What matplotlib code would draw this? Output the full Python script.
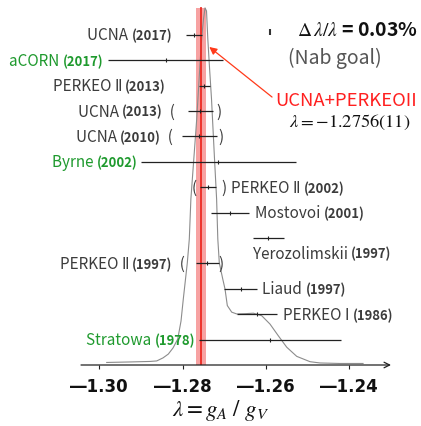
import matplotlib
matplotlib.use("Agg")
import matplotlib.pyplot as plt
from matplotlib.offsetbox import TextArea, HPacker, AnnotationBbox

# ---- measurements of lambda = gA/gV (top row first) ----
names = ["UCNA", "aCORN", "PERKEO Ⅱ", "UCNA", "UCNA", "Byrne", "PERKEO Ⅱ",
         "Mostovoi", "Yerozolimskii", "PERKEO Ⅱ", "Liaud", "PERKEO Ⅰ", "Stratowa"]
years = ["(2017)", "(2017)", "(2013)", "(2013)", "(2010)", "(2002)", "(2002)",
         "(2001)", "(1997)", "(1997)", "(1997)", "(1986)", "(1978)"]
values = [-1.2772, -1.2840, -1.2748, -1.2758, -1.2760, -1.2714, -1.2739,
          -1.2686, -1.2594, -1.2741, -1.2661, -1.2621, -1.2590]
errors = [0.0019, 0.0138, 0.0013, 0.0030, 0.0042, 0.0185, 0.0019,
          0.0046, 0.0038, 0.0028, 0.0040, 0.0048, 0.0170]
superseded = [False, False, False, True, True, False, True,
              False, False, True, False, False, False]
from_a_coefficient = [False, True, False, False, False, True, False,
                      False, False, False, False, False, True]

# combined UCNA+PERKEO II result
combined_value = -1.2756
combined_error = 0.0011
combined_text = "UCNA+PERKEOII"
nab_goal_text = "(Nab goal)"

# ideogram of the measurements
ideo_lambda = [-1.29822, -1.29263, -1.28783, -1.28622, -1.28471, -1.28344, -1.28231,
               -1.28118, -1.28039, -1.27984, -1.27888, -1.27840, -1.27802, -1.27732,
               -1.27662, -1.27619, -1.27576, -1.27535, -1.27499, -1.27463, -1.27427,
               -1.27396, -1.27353, -1.27307, -1.27271, -1.27235, -1.27185, -1.27156,
               -1.27120, -1.27038, -1.26983, -1.26928, -1.26822, -1.26702, -1.26503,
               -1.26304, -1.26102, -1.25903, -1.25704, -1.25502, -1.25262, -1.24943,
               -1.24703, -1.24223, -1.23671]
ideo_height = [0.10, 0.12, 0.14, 0.16, 0.28, 0.43, 0.67,
               1.02, 1.73, 2.60, 4.02, 4.96, 6.54, 8.11,
               9.69, 10.87, 12.05, 13.03, 13.62, 14.06, 13.94,
               12.84, 11.65, 10.47, 9.29, 8.11, 6.54, 4.96,
               4.02, 3.39, 2.99, 2.34, 2.08, 2.01, 2.02,
               2.04, 1.94, 1.61, 1.15, 0.70, 0.34, 0.13,
               0.08, 0.06, 0.06]

tick_values = [-1.30, -1.28, -1.26, -1.24]
tick_labels = ["―1.30", "―1.28", "―1.26", "―1.24"]

# ---- label placement: side of the bar and gap in pixels ----
label_side = ["left", "left", "left", "left", "left", "left", "right",
              "right", "below", "left", "right", "right", "left"]
label_gap = [14, 5, 33, 13, 9, 4, 3, 6, 0, 11, 5, 6, 4]
close_gap = [0, 0, 0, 3.7, 1.6, 0, 3.3, 0, 0, -1, 0, 0, 0]

W, H, DPI = 421, 427, 100
PT = 72.0 / DPI  # points per pixel

JP = "Noto Sans CJK JP"
plt.rcParams["font.family"] = [JP, "DejaVu Sans"]
plt.rcParams["mathtext.fontset"] = "stix"

TEXT = "#3c3c3c"
GREEN = "#1f9a2e"
RED = "#ff1f1f"
NAME_SIZE = 11.0
YEAR_SIZE = 9.4
ROMAN = "ⅠⅡ"

fig = plt.figure(figsize=(W / DPI, H / DPI), dpi=DPI)
ax = fig.add_axes([81 / W, 61 / H, 310 / W, 366 / H])
ax.set_xlim(-1.30439, -1.23)
ax.set_ylim(0, 14.41)

n = len(values)
rows = list(range(n, 0, -1))
peak = max(ideo_height)

# combined band and central value
ax.fill_betweenx([0, peak], combined_value - combined_error,
                 combined_value + combined_error, color="#f7a2a2", lw=0, zorder=1)
ax.plot([combined_value, combined_value], [0, peak], color="#ec2a22", lw=1.3, zorder=3)

# ideogram
ax.plot(ideo_lambda, ideo_height, color="#8c8c8c", lw=0.8, zorder=2)

# measurements
ax.errorbar(values, rows, xerr=errors, fmt="none", ecolor="#222222",
            elinewidth=0.9, capsize=0, zorder=4)
ax.plot(values, rows, ls="none", marker="|", ms=3, mew=0.8, color="#222222", zorder=4)


def name_parts(name, color):
    """Split a name so roman numerals get a narrower glyph."""
    parts = []
    chunk = ""
    for ch in name:
        if ch in ROMAN:
            if chunk:
                parts.append(TextArea(chunk, textprops=dict(fontsize=NAME_SIZE, color=color,
                                                            family=JP)))
                chunk = ""
            parts.append(TextArea(ch, textprops=dict(fontsize=NAME_SIZE, color=color,
                                                     family="DejaVu Sans")))
        else:
            chunk += ch
    chunk += " "
    parts.append(TextArea(chunk, textprops=dict(fontsize=NAME_SIZE, color=color, family=JP)))
    return parts


def label_box(name, year, color, prefix="", suffix=""):
    parts = []
    if prefix:
        parts.append(TextArea(prefix, textprops=dict(fontsize=NAME_SIZE, color=TEXT, family=JP)))
    parts += name_parts(name, color)
    parts.append(TextArea(year, textprops=dict(fontsize=YEAR_SIZE, color=color, family=JP,
                                               fontweight="bold")))
    if suffix:
        parts.append(TextArea(suffix, textprops=dict(fontsize=NAME_SIZE, color=TEXT, family=JP)))
    return HPacker(children=parts, align="baseline", pad=0, sep=0)


def paren(s, x, y, dx_px, align):
    box = TextArea(s, textprops=dict(fontsize=NAME_SIZE, color=TEXT, family=JP))
    ab = AnnotationBbox(box, (x, y), xybox=(dx_px * PT, 0), boxcoords="offset points",
                        box_alignment=(align, 0.5), frameon=False, pad=0)
    ax.add_artist(ab)


for i in range(n):
    color = GREEN if from_a_coefficient[i] else TEXT
    lo = values[i] - errors[i]
    hi = values[i] + errors[i]
    y = rows[i]
    side = label_side[i]
    if side == "left":
        suffix = "  (" if superseded[i] else ""
        box = label_box(names[i], years[i], color, suffix=suffix)
        ab = AnnotationBbox(box, (lo, y), xybox=(-label_gap[i] * PT, 0),
                            boxcoords="offset points", box_alignment=(1, 0.5),
                            frameon=False, pad=0)
        ax.add_artist(ab)
        if superseded[i]:
            paren(")", hi, y, close_gap[i], 0)
    elif side == "right":
        prefix = ") " if superseded[i] else ""
        box = label_box(names[i], years[i], color, prefix=prefix)
        dx = label_gap[i] + (close_gap[i] if superseded[i] else 0)
        ab = AnnotationBbox(box, (hi, y), xybox=(dx * PT, 0),
                            boxcoords="offset points", box_alignment=(0, 0.5),
                            frameon=False, pad=0)
        ax.add_artist(ab)
        if superseded[i]:
            paren("(", lo, y, -3, 1)
    else:
        box = label_box(names[i], years[i], color)
        ab = AnnotationBbox(box, (lo, y), xybox=(0, -15 * PT),
                            boxcoords="offset points", box_alignment=(0, 0.5),
                            frameon=False, pad=0)
        ax.add_artist(ab)

# axis with arrow
for s in ax.spines.values():
    s.set_visible(False)
ax.annotate("", xy=(1, 0), xytext=(0, 0), xycoords="axes fraction",
            arrowprops=dict(arrowstyle="->", color="#222222", lw=0.9,
                            shrinkA=0, shrinkB=0, mutation_scale=10))
ax.set_xticks(tick_values, tick_labels)
ax.set_yticks([])
ax.tick_params(axis="x", direction="out", length=3, width=0.8, color="#222222",
               pad=6, labelsize=12)
for t in ax.get_xticklabels():
    t.set_fontweight("bold")
    t.set_family("DejaVu Sans")
    t.set_color("#111111")


def fxy(px, py):
    return px / W, 1 - py / H


fig.text(*fxy(221, 411), r"$\lambda = g_A\ /\ g_V$", ha="center", va="center",
         fontsize=16.5, color="#111111")

# combined result annotation
fig.text(*fxy(346, 101), combined_text, ha="center", va="center", fontsize=13.3,
         color=RED)
fig.text(*fxy(350, 122), r"$\lambda = -1.2756(11)$", ha="center", va="center",
         fontsize=13.2, color="#111111")
ax.annotate("", xy=(-1.2736, 12.52), xytext=(-1.25855, 10.55),
            arrowprops=dict(arrowstyle="-|>", color="#ff3a1a", lw=0.9,
                            mutation_scale=11, shrinkA=0, shrinkB=0), zorder=5)

# Nab precision goal
ax.plot([-1.2590], [13.1], ls="none", marker="|", ms=4, mew=1.5, color="#333333")
fig.text(*fxy(357, 31), r"$\Delta\,\lambda/\lambda$ = 0.03%", ha="center", va="center",
         fontsize=14, color="#111111", fontweight="bold")
fig.text(*fxy(335, 58), nab_goal_text, ha="center", va="center", fontsize=14,
         color="#555555")

fig.savefig("out.png", dpi=DPI)
